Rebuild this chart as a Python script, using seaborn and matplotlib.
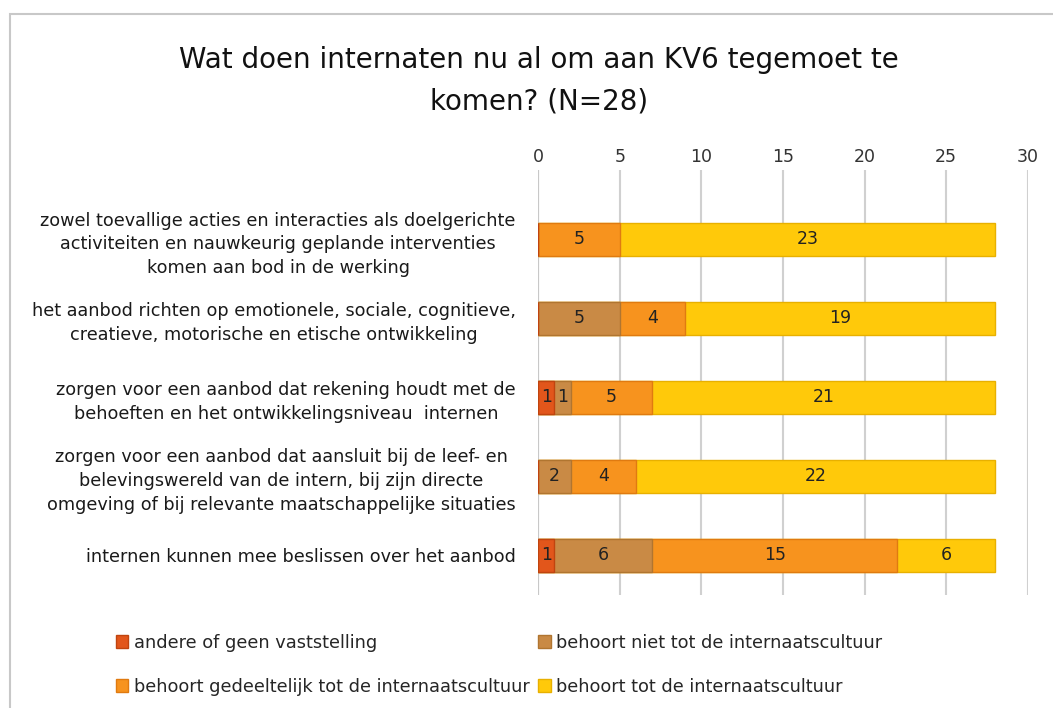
import numpy as np
import pandas as pd
import seaborn as sns
import matplotlib.pyplot as plt
from matplotlib.patches import Rectangle, Patch

# data
statements = [
    "zowel toevallige acties en interacties als doelgerichte\nactiviteiten en nauwkeurig geplande interventies\nkomen aan bod in de werking",
    "het aanbod richten op emotionele, sociale, cognitieve,\ncreatieve, motorische en etische ontwikkeling",
    "zorgen voor een aanbod dat rekening houdt met de\nbehoeften en het ontwikkelingsniveau  internen",
    "zorgen voor een aanbod dat aansluit bij de leef- en\nbelevingswereld van de intern, bij zijn directe\nomgeving of bij relevante maatschappelijke situaties",
    "internen kunnen mee beslissen over het aanbod",
]
series = [
    "andere of geen vaststelling",
    "behoort niet tot de internaatscultuur",
    "behoort gedeeltelijk tot de internaatscultuur",
    "behoort tot de internaatscultuur",
]
andere = [0, 0, 1, 0, 1]
niet = [0, 5, 1, 2, 6]
gedeeltelijk = [5, 4, 5, 4, 15]
behoort = [23, 19, 21, 22, 6]
colors = ["#E2561B", "#C98A45", "#F7931E", "#FFC90A"]
edges = ["#C0440F", "#B07530", "#E07A10", "#E8B000"]

df = pd.DataFrame({"statement": statements,
                   series[0]: andere, series[1]: niet,
                   series[2]: gedeeltelijk, series[3]: behoort})
cum = df[series].cumsum(axis=1)

sns.set_style("white")
plt.rcParams["font.family"] = ["DejaVu Sans"]

fig = plt.figure(figsize=(10.53, 7.08), dpi=100)
ax = fig.add_axes([0.511, 0.16, 0.465, 0.60])

# stacked bars: draw cumulative totals from largest to smallest
for i in reversed(range(len(series))):
    tmp = pd.DataFrame({"statement": statements, "val": cum[series[i]]})
    sns.barplot(data=tmp, x="val", y="statement", color=colors[i],
                width=0.42, saturation=1, edgecolor=edges[i], linewidth=1,
                ax=ax, zorder=3)

# value labels
for r in range(len(statements)):
    left = 0
    for s in series:
        v = df.loc[r, s]
        if v > 0:
            ax.text(left + v / 2, r, str(v), ha="center", va="center",
                    fontsize=12.5, color="#222222", zorder=5)
        left += v

ax.set_xlim(0, 30)
ax.set_ylim(4.5, -0.88)
ax.set_xticks(range(0, 31, 5))
ax.xaxis.tick_top()
ax.tick_params(axis="x", length=0, labelsize=12.5, colors="#333333", pad=3)
ax.tick_params(axis="y", length=0, labelsize=12.7, colors="#1a1a1a", pad=16)
for lab in ax.get_yticklabels():
    lab.set_multialignment("center")
    lab.set_linespacing(1.4)
ax.grid(axis="x", color="#D0D0D0", linewidth=1.5, zorder=0)
ax.set_axisbelow(True)
for sp in ax.spines.values():
    sp.set_visible(False)
ax.axvline(0, color="#C8C8C8", linewidth=1.5, zorder=1)
ax.set_xlabel("")
ax.set_ylabel("")

fig.suptitle("Wat doen internaten nu al om aan KV6 tegemoet te\nkomen? (N=28)",
             x=0.512, y=0.935, fontsize=20, color="#111111", linespacing=1.6)

# legend, row-wise order
handles = [Patch(facecolor=colors[i], edgecolor=edges[i], label=series[i]) for i in range(4)]
order = [0, 2, 1, 3]
fig.legend([handles[i] for i in order], [series[i] for i in order],
           loc="lower left", bbox_to_anchor=(0.095, -0.005), ncol=2, frameon=False,
           fontsize=12.8, handlelength=0.7, handleheight=0.7, handletextpad=0.3,
           columnspacing=0.5, labelspacing=1.45)

# outer chart border
fig.patches.append(Rectangle((0.0095, -0.05), 1.2, 1.03, transform=fig.transFigure,
                             fill=False, edgecolor="#C8C8C8", linewidth=1.5))

fig.savefig("out.png", dpi=100)
